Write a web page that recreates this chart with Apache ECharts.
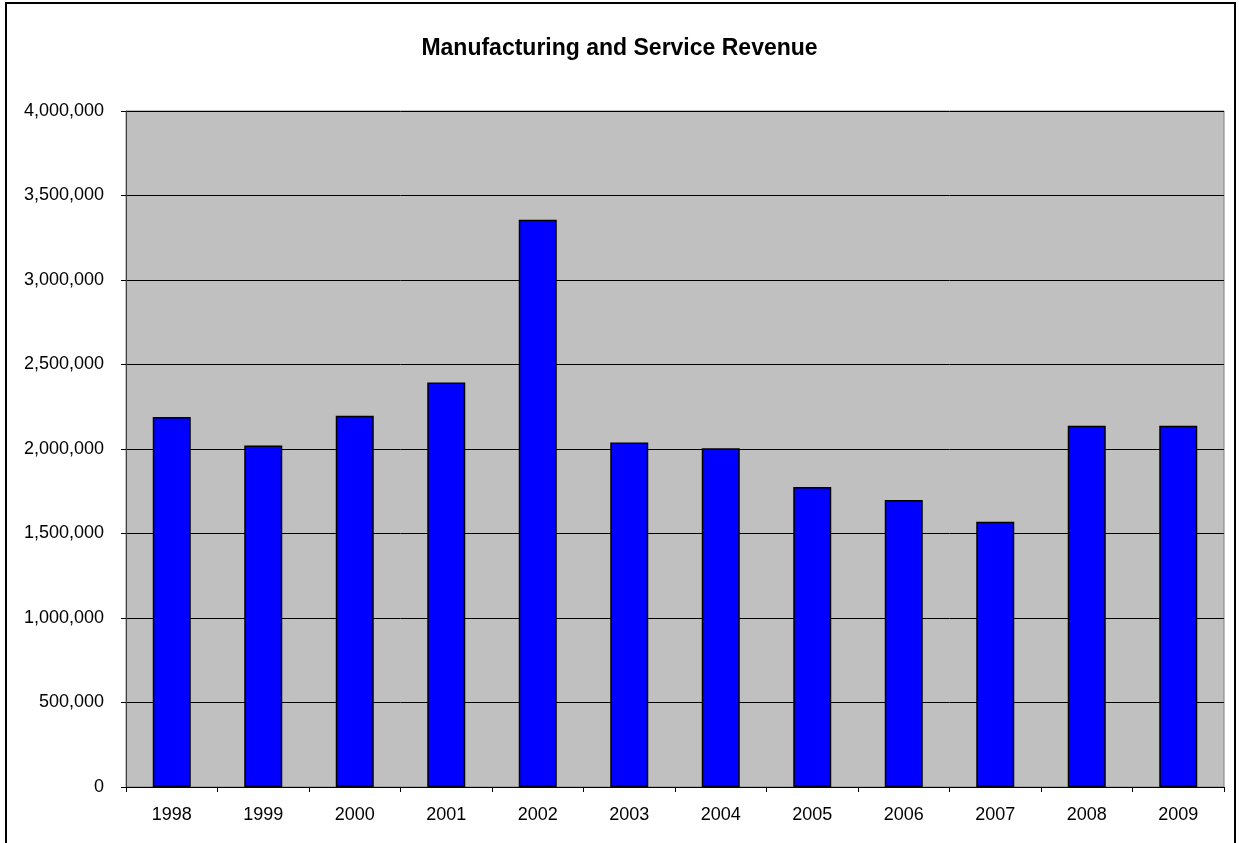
<!DOCTYPE html>
<html>
<head>
<meta charset="utf-8">
<style>
html, body { margin: 0; padding: 0; background: #fff; }
#chart { width: 1239px; height: 843px; }
</style>
<script src="https://cdn.jsdelivr.net/npm/echarts@6/dist/echarts.min.js"></script>
</head>
<body>
<div id="chart"></div>
<script>
var years = ['1998', '1999', '2000', '2001', '2002', '2003', '2004', '2005', '2006', '2007', '2008', '2009'];
var revenue = [2190000, 2020000, 2197000, 2394000, 3357000, 2039000, 2004000, 1775000, 1698000, 1570000, 2138000, 2138000];

var chart = echarts.init(document.getElementById('chart'));
var font = 'Arial, "Liberation Sans", sans-serif';

chart.setOption({
    backgroundColor: '#fff',
    animation: false,
    title: {
        text: 'Manufacturing and Service Revenue',
        left: 'center',
        top: 32,
        textStyle: { fontFamily: font, fontSize: 23, fontWeight: 'bold', color: '#000' }
    },
    graphic: [{
        type: 'rect',
        shape: { x: 6, y: 3, width: 1229, height: 860 },
        style: { fill: 'none', stroke: '#000', lineWidth: 2 },
        silent: true
    }],
    grid: {
        left: 126,
        top: 111,
        right: 15,
        bottom: 56,
        show: true,
        backgroundColor: '#c0c0c0',
        borderColor: '#808080',
        borderWidth: 1
    },
    xAxis: {
        type: 'category',
        data: years,
        axisLine: { lineStyle: { color: '#000', width: 1 } },
        axisTick: { show: true, length: 5, lineStyle: { color: '#000' } },
        axisLabel: { fontFamily: font, fontSize: 18, color: '#000', margin: 19 }
    },
    yAxis: {
        type: 'value',
        min: 0,
        max: 4000000,
        interval: 500000,
        axisLine: { show: true, lineStyle: { color: '#404040', width: 1 } },
        axisTick: { show: true, length: 5, lineStyle: { color: '#000' } },
        splitLine: { show: true, lineStyle: { color: '#000', width: 1 } },
        axisLabel: {
            fontFamily: font, fontSize: 18, color: '#000', margin: 22,
            formatter: function (v) { return v.toLocaleString('en-US'); }
        }
    },
    series: [{
        type: 'bar',
        data: revenue,
        barWidth: 38,
        itemStyle: { color: '#0000ff', borderColor: '#000', borderWidth: 1.5 }
    }]
});
</script>
</body>
</html>
